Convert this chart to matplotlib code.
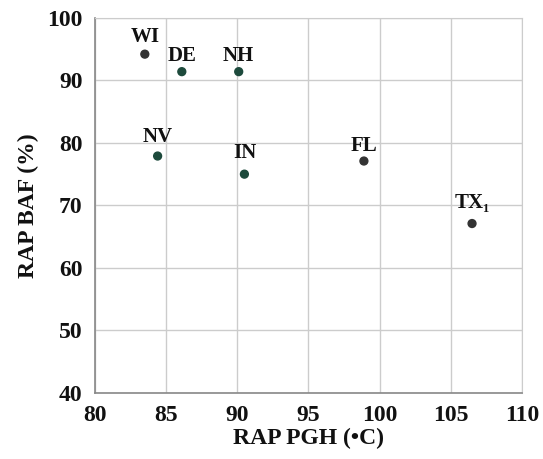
import matplotlib
matplotlib.use("Agg")
import matplotlib.pyplot as plt

states = ["WI", "DE", "NH", "NV", "IN", "FL", "TX\u2081"]
pgh = [83.5, 86.1, 90.1, 84.4, 90.5, 98.9, 106.5]
baf = [94.2, 91.4, 91.4, 77.9, 75.0, 77.1, 67.1]
colors = ["#333333", "#1d4a3c", "#1d4a3c", "#1d4a3c", "#1d4a3c", "#333333", "#333333"]
label_dy = [12, 11, 11, 14, 15, 11, 15]
xticks = [80, 85, 90, 95, 100, 105, 110]
yticks = [40, 50, 60, 70, 80, 90, 100]

plt.rcParams['font.family'] = ['Liberation Serif', 'DejaVu Serif']
plt.rcParams['font.weight'] = 'bold'

fig = plt.figure(figsize=(5.43, 4.59), dpi=100)
ax = fig.add_axes([0.175, 0.144, 0.786, 0.817])

ax.scatter(pgh, baf, s=32, c=colors, zorder=3)
for x, y, s, dy in zip(pgh, baf, states, label_dy):
    ax.annotate(s, (x, y), xytext=(0, dy), textcoords="offset points",
                ha="center", va="center", fontsize=15, fontweight="bold", color="#111111")

ax.set_xlim(80, 110)
ax.set_ylim(40, 100)
ax.set_xticks(xticks)
ax.set_yticks(yticks)
ax.tick_params(length=0, labelsize=17, colors="#111111")
ax.tick_params(axis="x", pad=9)
ax.tick_params(axis="y", pad=9)
for lab in ax.get_xticklabels() + ax.get_yticklabels():
    lab.set_fontweight("bold")
ax.grid(True, color="#cccccc", linewidth=1.0)
ax.set_axisbelow(True)
for side in ["top", "right"]:
    ax.spines[side].set_color("#cccccc")
for side in ["left", "bottom"]:
    ax.spines[side].set_color("#888888")
    ax.spines[side].set_linewidth(1.2)

ax.set_xlabel("RAP PGH (\u2022C)", fontsize=17, fontweight="bold", labelpad=1, color="#111111")
ax.set_ylabel("RAP BAF (%)", fontsize=17, fontweight="bold", labelpad=6, color="#111111")

fig.savefig("out.png", dpi=100)
